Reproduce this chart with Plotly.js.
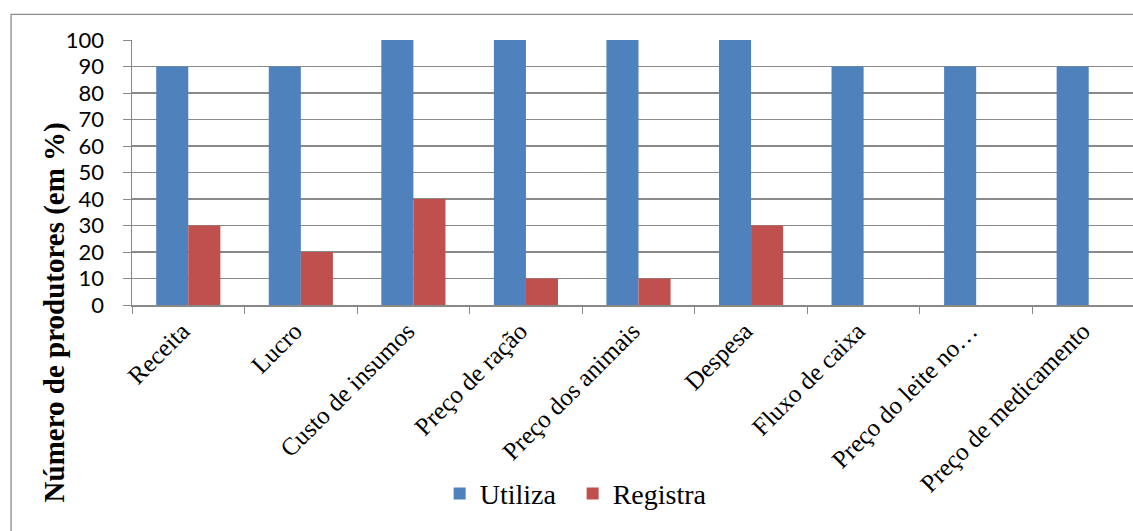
<!DOCTYPE html>
<html>
<head>
<meta charset="utf-8">
<script src="https://cdn.plot.ly/plotly-3.0.1.min.js"></script>
<style>
  html, body { margin: 0; padding: 0; background: #fff; overflow: hidden; }
  #chart { width: 1160px; height: 531px; }
</style>
</head>
<body>
<div id="chart"></div>
<script>
// Indicadores financeiros: uso e registro pelos produtores
const categorias = [
  "Receita", "Lucro", "Custo de insumos", "Preço de ração", "Preço dos animais",
  "Despesa", "Fluxo de caixa", "Preço do leite no…", "Preço de medicamento"
];
const utiliza = [90, 90, 100, 100, 100, 100, 90, 90, 90];
const registra = [30, 20, 40, 10, 10, 30, 0, 0, 0];
const yTicks = [0, 10, 20, 30, 40, 50, 60, 70, 80, 90, 100];

const gridColor = "#898989";
const serif = "Liberation Serif, Times New Roman, serif";

const traces = [
  {
    type: "bar", name: "Utiliza", x: categorias, y: utiliza,
    marker: { color: "#4F81BD" }, hoverinfo: "skip"
  },
  {
    type: "bar", name: "Registra", x: categorias, y: registra,
    marker: { color: "#C0504D" }, hoverinfo: "skip"
  }
];

const layout = {
  width: 1160,
  height: 531,
  margin: { l: 132, r: 15, t: 40, b: 221.5 },
  paper_bgcolor: "#ffffff",
  plot_bgcolor: "#ffffff",
  barmode: "group",
  bargap: 0.43,
  bargroupgap: 0,
  showlegend: true,
  legend: {
    orientation: "h",
    x: 0.435, xanchor: "center",
    y: -0.712, yanchor: "middle",
    entrywidth: 88,
    entrywidthmode: "pixels",
    font: { family: serif, size: 28, color: "#000" },
    bgcolor: "rgba(0,0,0,0)"
  },
  xaxis: {
    type: "category",
    tickangle: -45,
    tickson: "boundaries",
    ticks: "outside",
    ticklen: 7,
    tickcolor: gridColor,
    ticklabelshift: -6,
    showline: true,
    linecolor: gridColor,
    linewidth: 1.5,
    showgrid: false,
    tickfont: { family: serif, size: 25, color: "#000" },
    fixedrange: true
  },
  yaxis: {
    range: [0, 100],
    tickvals: yTicks,
    ticktext: yTicks.map(String),
    ticks: "outside",
    ticklen: 8,
    tickcolor: gridColor,
    ticklabelstandoff: 14,
    showline: true,
    linecolor: gridColor,
    linewidth: 1.5,
    showgrid: true,
    gridcolor: gridColor,
    gridwidth: 1.5,
    zeroline: false,
    tickfont: { family: "Lato, Noto Sans, sans-serif", size: 22, color: "#000" },
    fixedrange: true
  },
  annotations: [
    {
      text: "<b>Número de produtores (em %)</b>",
      xref: "paper", yref: "paper",
      x: -0.077, y: -0.028,
      xanchor: "center", yanchor: "middle",
      textangle: -90,
      showarrow: false,
      font: { family: serif, size: 29, color: "#000" }
    }
  ],
  shapes: [
    {
      type: "rect", xref: "paper", yref: "paper",
      x0: -0.1194, x1: 1.2, y0: -1.2, y1: 1.0965,
      line: { color: "#8C8C8C", width: 1.3 },
      fillcolor: "rgba(0,0,0,0)",
      layer: "below"
    }
  ]
};

Plotly.newPlot("chart", traces, layout, { displayModeBar: false, staticPlot: true });
</script>
</body>
</html>
